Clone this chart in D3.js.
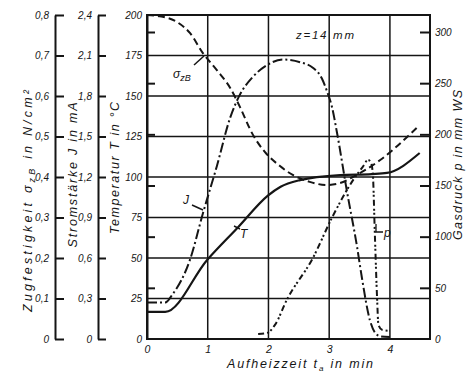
<!DOCTYPE html>
<html><head><meta charset="utf-8">
<script src="https://cdn.jsdelivr.net/npm/d3@7/dist/d3.min.js"></script>
<style>
body{margin:0;background:#fff;}
svg text{font-family:"Liberation Sans",Arial,sans-serif;font-style:italic;fill:#151515;}
</style></head><body>
<svg id="c" width="472" height="382"></svg>
<script>
// ---- tick values ----
const timeTicks = [0, 1, 2, 3, 4];
const tempTicks = [0, 25, 50, 75, 100, 125, 150, 175, 200];
const sigmaTicks = [0, 0.1, 0.2, 0.3, 0.4, 0.5, 0.6, 0.7, 0.8];
const currentTicks = [0, 0.3, 0.6, 0.9, 1.2, 1.5, 1.8, 2.1, 2.4];
const pressureTicks = [0, 50, 100, 150, 200, 250, 300];

// ---- series: Zugfestigkeit sigma_zB (N/cm2) ----
const sigmaTime = [0, 0.21, 0.49, 0.71, 0.92, 1.15, 1.37, 1.53, 1.745, 1.94, 2.19, 2.40, 2.68, 2.96, 3.18, 3.39, 3.84, 4.44];
const sigmaVal  = [0.80, 0.797, 0.783, 0.755, 0.706, 0.664, 0.620, 0.573, 0.504, 0.462, 0.427, 0.405, 0.388, 0.380, 0.385, 0.400, 0.442, 0.521];

// ---- series: Temperatur T (°C) ----
const tempTime = [0, 0.30, 0.99, 1.50, 1.99, 2.20, 2.52, 3.18, 3.70, 3.95, 4.49];
const tempVal  = [16.7, 16.7, 48.8, 69, 88.5, 94, 98.1, 101.2, 101.8, 102.5, 114.8];

// ---- series: Stromstärke J (mA) ----
const currentTime = [0, 0.30, 0.42, 0.71, 0.92, 1.15, 1.37, 1.53, 1.74, 1.98, 2.24, 2.52, 2.73, 2.88, 2.96, 3.045, 3.128, 3.29, 3.46, 3.54, 3.67, 3.75, 3.84, 4.0];
const currentVal  = [0.27, 0.27, 0.33, 0.59, 0.93, 1.28, 1.64, 1.81, 1.94, 2.03, 2.07, 2.05, 2.01, 1.93, 1.84, 1.72, 1.53, 1.10, 0.68, 0.45, 0.14, 0.05, 0.02, 0.015];

// ---- series: Gasdruck p (mm WS) ----
const pressTime = [1.83, 1.98, 2.11, 2.30, 2.73, 3.05, 3.39, 3.55, 3.64, 3.69, 3.72, 3.75, 3.79, 3.81, 3.87, 4.0];
const pressVal  = [5, 6, 14, 38, 79, 119, 155, 168, 175, 172, 160, 106, 38, 14, 9, 8];

const svg = d3.select("#c");
const L = 147, R = 430, T = 15, B = 339;
const ink = "#151515";

const x  = d3.scaleLinear().domain([0, 4.66]).range([L, R]);
const yT = d3.scaleLinear().domain([0, 200]).range([B, T]);
const yS = d3.scaleLinear().domain([0, 0.8]).range([B, T]);
const yJ = d3.scaleLinear().domain([0, 2.4]).range([B, T]);
const yP = d3.scaleLinear().domain([0, 300]).range([B, 32]);

const comma = d => String(d).replace(".", ",");

// grid
const g = svg.append("g");
g.selectAll(".hg").data(tempTicks.filter(v => v > 0 && v < 200)).join("line")
  .attr("x1", L).attr("x2", R).attr("y1", d => yT(d)).attr("y2", d => yT(d))
  .attr("stroke", ink).attr("stroke-width", 1.5);
g.selectAll(".vg").data(timeTicks.filter(v => v > 0)).join("line")
  .attr("x1", d => x(d)).attr("x2", d => x(d)).attr("y1", T).attr("y2", B)
  .attr("stroke", ink).attr("stroke-width", 1.5);
g.append("rect").attr("x", L).attr("y", T).attr("width", R - L).attr("height", B - T)
  .attr("fill", "none").attr("stroke", ink).attr("stroke-width", 2);

function styleAxis(sel, fs) {
  sel.selectAll("path").attr("stroke", ink).attr("stroke-width", 2);
  sel.selectAll("line").attr("stroke", ink).attr("stroke-width", 2);
  sel.selectAll("text").attr("font-size", fs).attr("font-family", "Liberation Sans, Arial, sans-serif")
    .attr("font-style", "italic").attr("fill", ink);
}

// sigma axis
const aS = svg.append("g").attr("transform", `translate(55,0)`)
  .call(d3.axisLeft(yS).tickValues(sigmaTicks).tickFormat(comma).tickSizeInner(-9).tickSizeOuter(0).tickPadding(6));
styleAxis(aS, 10);
// current axis
const aJ = svg.append("g").attr("transform", `translate(98,0)`)
  .call(d3.axisLeft(yJ).tickValues(currentTicks).tickFormat(comma).tickSizeInner(-8).tickSizeOuter(0).tickPadding(6));
styleAxis(aJ, 10);
// temperature axis
const aT = svg.append("g").attr("transform", `translate(${L},0)`)
  .call(d3.axisLeft(yT).tickValues(tempTicks).tickSize(0).tickPadding(5));
styleAxis(aT, 10);
// inner pressure ticks on left edge
const aPL = svg.append("g").attr("transform", `translate(${L},0)`)
  .call(d3.axisRight(yP).tickValues(pressureTicks.filter(v => v > 0)).tickFormat("").tickSize(8).tickSizeOuter(0));
aPL.select("path").remove();
styleAxis(aPL, 10);
// pressure axis right
const aP = svg.append("g").attr("transform", `translate(${R},0)`)
  .call(d3.axisRight(yP).tickValues(pressureTicks).tickSizeInner(-10).tickSizeOuter(0).tickPadding(5));
aP.select("path").remove();
aP.selectAll(".tick").filter(d => d === 0).select("line").remove();
styleAxis(aP, 10);
// time axis
const aX = svg.append("g").attr("transform", `translate(0,${B})`)
  .call(d3.axisBottom(x).tickValues(timeTicks).tickFormat(d3.format("d")).tickSize(0).tickPadding(7));
aX.select("path").remove();
styleAxis(aX, 10.5);

// curves
const mk = (ts, vs) => ts.map((t, i) => [t, vs[i]]);
function curve(data, ys, dash, w) {
  svg.append("path").datum(data)
    .attr("d", d3.line().x(d => x(d[0])).y(d => ys(d[1])).curve(d3.curveMonotoneX))
    .attr("fill", "none").attr("stroke", ink).attr("stroke-width", w)
    .attr("stroke-dasharray", dash).attr("stroke-linecap", "butt");
}
curve(mk(sigmaTime, sigmaVal), yS, "7,4", 2);
curve(mk(tempTime, tempVal), yT, null, 2.2);
curve(mk(currentTime, currentVal), yJ, "10,3,2,3", 2);
curve(mk(pressTime, pressVal), yP, "6,3,2,2,2,3", 2);

// annotations
function ann(txt, px, py, fs, anchor) {
  return svg.append("text").attr("x", px).attr("y", py).attr("font-size", fs)
    .attr("text-anchor", anchor || "start").text(txt);
}
ann("z=14 mm", 296, 39, 11.5).attr("textLength", 58).attr("lengthAdjust", "spacing");
const sg = svg.append("text").attr("x", 173).attr("y", 78).attr("font-size", 12);
sg.append("tspan").text("σ");
sg.append("tspan").attr("dy", 3).attr("font-size", 9).text("zB");
svg.append("line").attr("x1", 194).attr("y1", 65).attr("x2", 204).attr("y2", 56).attr("stroke", ink).attr("stroke-width", 1.5);
ann("J", 183, 204, 12);
svg.append("line").attr("x1", 192).attr("y1", 205).attr("x2", 203).attr("y2", 210).attr("stroke", ink).attr("stroke-width", 1.5);
ann("T", 240, 238, 12);
svg.append("line").attr("x1", 234).attr("y1", 226).attr("x2", 240).attr("y2", 229).attr("stroke", ink).attr("stroke-width", 1.5);
ann("p", 384, 237, 12);
svg.append("path").attr("d", "M376,224V232H383").attr("fill", "none").attr("stroke", ink).attr("stroke-width", 1.3);

// axis titles
function vtitle(cx, cy, len, build) {
  const t = svg.append("text").attr("transform", `translate(${cx},${cy}) rotate(-90)`)
    .attr("text-anchor", "middle").attr("font-size", 12.5)
    .attr("textLength", len).attr("lengthAdjust", "spacing");
  build(t);
}
vtitle(32, 201, 222, t => {
  t.append("tspan").text("Zugfestigkeit σ");
  t.append("tspan").attr("dy", 3).attr("font-size", 9).text("zB");
  t.append("tspan").attr("dy", -3).text(" in N/cm²");
});
vtitle(77, 175, 145, t => t.text("Stromstärke J in mA"));
vtitle(119, 168, 132, t => t.text("Temperatur T in °C"));
vtitle(462, 165, 150, t => t.text("Gasdruck p in mm WS"));
const xt = svg.append("text").attr("x", 300).attr("y", 368).attr("font-size", 12.5)
  .attr("text-anchor", "middle").attr("textLength", 146).attr("lengthAdjust", "spacing");
xt.append("tspan").text("Aufheizzeit t");
xt.append("tspan").attr("dy", 3).attr("font-size", 8).text("a");
xt.append("tspan").attr("dy", -3).text(" in min");
</script>
</body></html>
